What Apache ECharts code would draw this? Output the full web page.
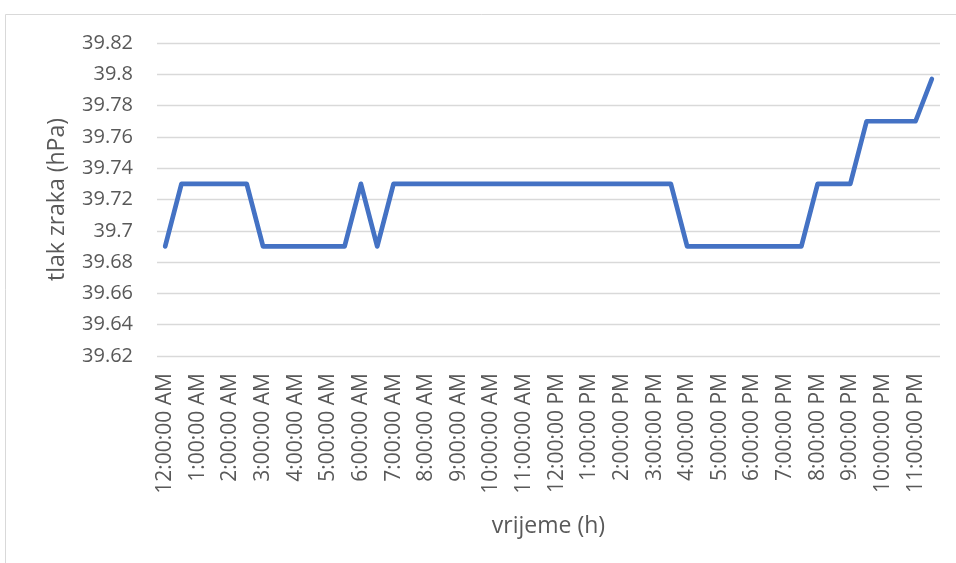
<!DOCTYPE html>
<html>
<head>
<meta charset="utf-8">
<script src="https://cdn.jsdelivr.net/npm/echarts@6/dist/echarts.min.js"></script>
<style>
html,body{margin:0;padding:0;background:#fff;}
#c{width:956px;height:563px;}
</style>
</head>
<body>
<div id="c"></div>
<script>
const categories = [
  "12:00:00 AM","12:30:00 AM","1:00:00 AM","1:30:00 AM","2:00:00 AM","2:30:00 AM",
  "3:00:00 AM","3:30:00 AM","4:00:00 AM","4:30:00 AM","5:00:00 AM","5:30:00 AM",
  "6:00:00 AM","6:30:00 AM","7:00:00 AM","7:30:00 AM","8:00:00 AM","8:30:00 AM",
  "9:00:00 AM","9:30:00 AM","10:00:00 AM","10:30:00 AM","11:00:00 AM","11:30:00 AM",
  "12:00:00 PM","12:30:00 PM","1:00:00 PM","1:30:00 PM","2:00:00 PM","2:30:00 PM",
  "3:00:00 PM","3:30:00 PM","4:00:00 PM","4:30:00 PM","5:00:00 PM","5:30:00 PM",
  "6:00:00 PM","6:30:00 PM","7:00:00 PM","7:30:00 PM","8:00:00 PM","8:30:00 PM",
  "9:00:00 PM","9:30:00 PM","10:00:00 PM","10:30:00 PM","11:00:00 PM","11:30:00 PM"
];
const pressure = [
  39.69, 39.73, 39.73, 39.73, 39.73, 39.73,
  39.69, 39.69, 39.69, 39.69, 39.69, 39.69,
  39.73, 39.69, 39.73, 39.73, 39.73, 39.73,
  39.73, 39.73, 39.73, 39.73, 39.73, 39.73,
  39.73, 39.73, 39.73, 39.73, 39.73, 39.73,
  39.73, 39.73, 39.69, 39.69, 39.69, 39.69,
  39.69, 39.69, 39.69, 39.69, 39.73, 39.73,
  39.73, 39.77, 39.77, 39.77, 39.77, 39.797
];
const yTicks = { min: 39.62, max: 39.82, interval: 0.02 };
const xTitle = "vrijeme (h)";
const yTitle = "tlak zraka (hPa)";

const FONT = "'Open Sans', 'Liberation Sans', sans-serif";
const TXT = "#595959";
const chart = echarts.init(document.getElementById('c'), null, {renderer: 'canvas'});
chart.setOption({
  animation: false,
  backgroundColor: '#ffffff',
  graphic: [{
    type: 'rect', shape: {x: 5.5, y: 14.5, width: 1000, height: 600},
    style: {fill: 'none', stroke: '#d9d9d9', lineWidth: 1}, silent: true, z: -1
  }],
  grid: {left: 157, right: 16, top: 43, bottom: 207, containLabel: false},
  xAxis: {
    type: 'category',
    data: categories,
    boundaryGap: true,
    name: xTitle,
    nameLocation: 'middle',
    nameGap: 159,
    nameTextStyle: {color: TXT, fontFamily: FONT, fontSize: 23},
    axisLine: {show: false},
    axisTick: {show: false},
    axisLabel: {
      interval: 1, rotate: 90, margin: 17,
      color: TXT, fontFamily: FONT, fontSize: 21
    },
    splitLine: {show: false}
  },
  yAxis: {
    type: 'value',
    min: yTicks.min, max: yTicks.max, interval: yTicks.interval,
    name: yTitle,
    nameLocation: 'middle',
    nameGap: 88,
    nameTextStyle: {color: TXT, fontFamily: FONT, fontSize: 23},
    axisLine: {show: false},
    axisTick: {show: false},
    axisLabel: {
      margin: 24, color: TXT, fontFamily: FONT, fontSize: 20,
      formatter: v => String(+v.toFixed(2))
    },
    splitLine: {lineStyle: {color: '#d9d9d9', width: 1.3}}
  },
  series: [{
    type: 'line',
    data: pressure,
    showSymbol: false,
    symbol: 'none',
    lineStyle: {color: '#4472C4', width: 4.7, cap: 'round', join: 'round'},
    itemStyle: {color: '#4472C4'}
  }]
});
</script>
</body>
</html>
